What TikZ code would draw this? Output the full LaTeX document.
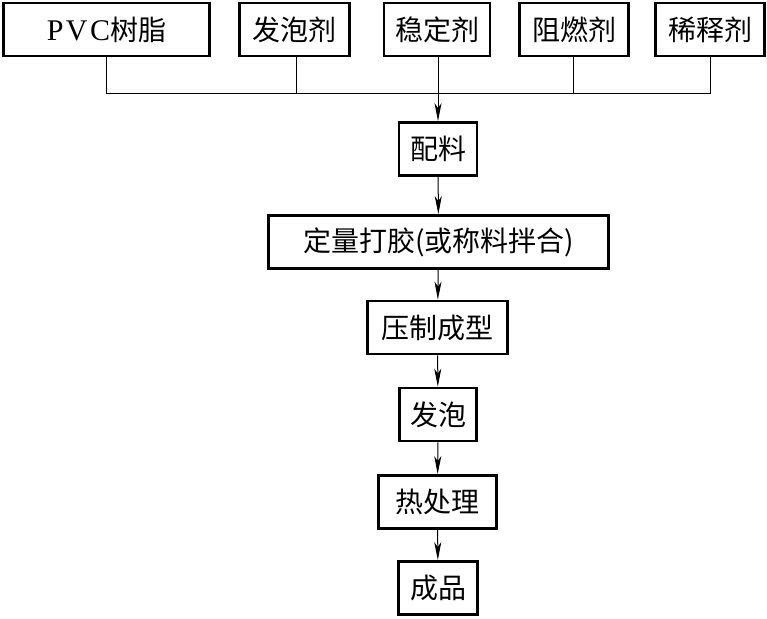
\documentclass[tikz,border=0pt]{standalone}
\usepackage{fontspec}
\setmainfont{Liberation Serif}
\newfontfamily\cjk{Noto Sans CJK SC}
\usepackage{tikz}
\usetikzlibrary{arrows.meta}

\begin{document}
\begin{tikzpicture}[x=1pt,y=-1pt,>={Stealth[length=18pt,width=7pt,inset=5pt]},
  font=\fontsize{28}{30}\selectfont\cjk,
  stage/.style={draw,line width=2.8pt,inner sep=0pt,minimum height=53pt},
  link/.style={line width=1pt}]
\useasboundingbox (0,0) rectangle (767,618);
% raw materials
\node[stage,minimum width=206pt] (pvc) at (106.5,29.5) {{\rmfamily\fontsize{30}{30}\selectfont\addfontfeatures{LetterSpace=8}PVC}树脂};
\node[stage,minimum width=110pt] (fpj) at (294.5,29.5) {发泡剂};
\node[stage,minimum width=106pt] (wdj) at (437,29.5) {稳定剂};
\node[stage,minimum width=109pt] (zrj) at (574,29.5) {阻燃剂};
\node[stage,minimum width=109pt] (xsj) at (710,29.5) {稀释剂};
\coordinate (bus) at (438,93);
% process steps
\node[stage,minimum width=78pt] (pl) at (438,149) {配料};
\node[stage,minimum width=340pt] (dl) at (438.5,242) {定量打胶(或称料拌合)};
\node[stage,minimum width=140pt] (yz) at (437.5,327.5) {压制成型};
\node[stage,minimum width=77pt] (fp) at (438,414.5) {发泡};
\node[stage,minimum width=118pt] (rcl) at (437.5,502) {热处理};
\node[stage,minimum width=79pt] (cp) at (438,588) {成品};
% collecting line
\draw[link] ([xshift=-0.5pt]pvc.south) -- ([xshift=-0.5pt]pvc.south |- bus) -- ([xshift=0pt]xsj.south |- bus) -- (xsj.south);
\draw[link] ([xshift=1.5pt]fpj.south) -- ([xshift=1.5pt]fpj.south |- bus);
\draw[link] ([xshift=-1pt]zrj.south) -- ([xshift=-1pt]zrj.south |- bus);
\draw[link,->] ([xshift=1pt]wdj.south) -- (pl.north);
% flow
\draw[link,->] (pl) -- (dl);
\draw[link,->] (dl) -- (yz);
\draw[link,->] (yz) -- (fp);
\draw[link,->] (fp) -- (rcl);
\draw[link,->] (rcl) -- (cp);
\end{tikzpicture}
\end{document}
